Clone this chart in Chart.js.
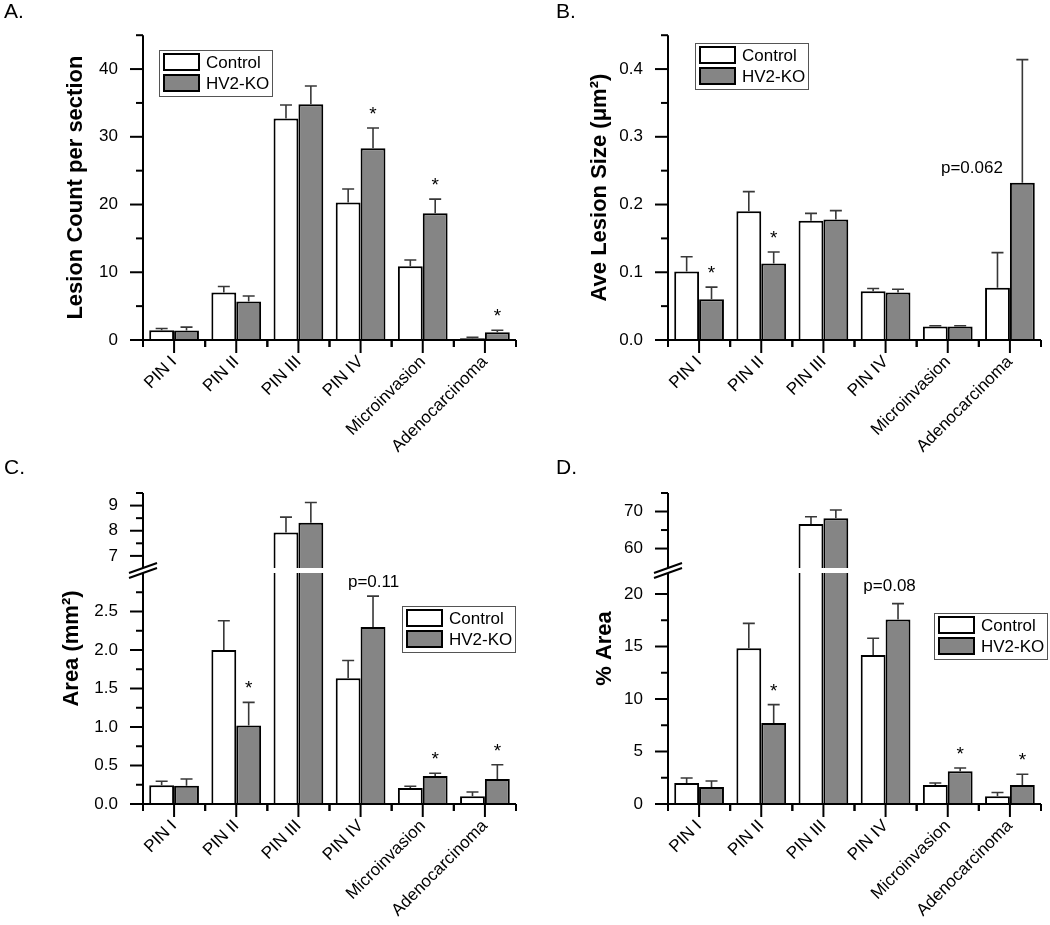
<!DOCTYPE html>
<html>
<head>
<meta charset="utf-8">
<script src="https://cdn.jsdelivr.net/npm/chart.js@4"></script>
<style>
  body { margin: 0; background: #fff; }
  #page { position: relative; width: 1050px; height: 925px; font-family: "Liberation Sans", Arial, sans-serif; }
  canvas { position: absolute; }
  .tag { position: absolute; font-size: 21px; line-height: 21px; }
</style>
</head>
<body>
<div id="page">
  <canvas id="chartA" width="525" height="470" style="left:0;top:0"></canvas>
  <canvas id="chartB" width="525" height="470" style="left:525px;top:0"></canvas>
  <canvas id="chartC" width="525" height="485" style="left:0;top:440px"></canvas>
  <canvas id="chartD" width="525" height="485" style="left:525px;top:440px"></canvas>
  <div class="tag" style="left:4px;top:0">A.</div>
  <div class="tag" style="left:556px;top:0">B.</div>
  <div class="tag" style="left:4px;top:456px">C.</div>
  <div class="tag" style="left:556px;top:456px">D.</div>
</div>
<script>
const FONT = '"Liberation Sans", Arial, sans-serif';
Chart.defaults.font.family = FONT;
Chart.defaults.color = '#000';

const categories = ['PIN I', 'PIN II', 'PIN III', 'PIN IV', 'Microinvasion', 'Adenocarcinoma'];
const seriesNames = ['Control', 'HV2-KO'];
const koColor = '#858585';

// A. lesion count per section
const countCtrl = [1.45, 7.0, 32.7, 20.3, 10.9, 0.25];
const countCtrlSem = [0.25, 0.9, 2.0, 2.0, 0.9, 0.15];
const countKo = [1.4, 5.7, 34.8, 28.3, 18.7, 1.15];
const countKoSem = [0.5, 0.8, 2.7, 3.0, 2.1, 0.3];
const countStars = [0, 0, 0, 1, 1, 1];
const countTicks = [0, 10, 20, 30, 40];

// B. average lesion size
const sizeCtrl = [0.101, 0.190, 0.176, 0.072, 0.020, 0.077];
const sizeCtrlSem = [0.022, 0.029, 0.011, 0.004, 0.001, 0.052];
const sizeKo = [0.060, 0.113, 0.178, 0.070, 0.020, 0.232];
const sizeKoSem = [0.018, 0.017, 0.013, 0.005, 0.001, 0.182];
const sizeStars = [1, 1, 0, 0, 0, 0];
const sizeTicks = [0, 0.1, 0.2, 0.3, 0.4];

// C. area (mm2), broken axis
const areaCtrl = [0.243, 2.00, 7.93, 1.634, 0.208, 0.10];
const areaCtrlSem = [0.052, 0.38, 0.61, 0.23, 0.022, 0.056];
const areaKo = [0.238, 1.02, 8.32, 2.30, 0.364, 0.325];
const areaKoSem = [0.087, 0.30, 0.80, 0.40, 0.036, 0.185];
const areaStars = [0, 1, 0, 0, 1, 1];
const areaTicksLow = [0, 0.5, 1.0, 1.5, 2.0, 2.5];
const areaTicksHigh = [7, 8, 9];

// D. % area, broken axis
const pctCtrl = [2.0, 14.83, 66.6, 14.19, 1.81, 0.73];
const pctCtrlSem = [0.48, 2.37, 2.0, 1.6, 0.19, 0.37];
const pctKo = [1.62, 7.71, 68.2, 17.56, 3.11, 1.81];
const pctKoSem = [0.57, 1.75, 2.2, 1.52, 0.32, 1.02];
const pctStars = [0, 1, 0, 0, 1, 1];
const pctTicksLow = [0, 5, 10, 15, 20];
const pctTicksHigh = [60, 70];

// ---------- drawing helpers ----------
const decor = {
  id: 'decor',
  beforeDatasetDraw(chart, args, opts) {
    const sc = chart.scales[args.meta.yAxisID];
    const a = chart.chartArea;
    const bottom = sc.id === 'yTop' ? sc.bottom - opts.gap : sc.bottom;
    chart.ctx.save();
    chart.ctx.beginPath();
    chart.ctx.rect(a.left, sc.top, a.right - a.left, bottom - sc.top);
    chart.ctx.clip();
  },
  afterDatasetDraw(chart, args) {
    const ctx = chart.ctx;
    const ds = chart.data.datasets[args.index];
    const sc = chart.scales[args.meta.yAxisID];
    ctx.strokeStyle = '#383838';
    ctx.lineWidth = 1.6;
    args.meta.data.forEach((bar, i) => {
      const top = sc.getPixelForValue(ds.data[i] + ds.sem[i]);
      ctx.beginPath();
      ctx.moveTo(bar.x, bar.y);
      ctx.lineTo(bar.x, top);
      ctx.moveTo(bar.x - 6, top);
      ctx.lineTo(bar.x + 6, top);
      ctx.stroke();
    });
    ctx.restore();
  },
  afterDatasetsDraw(chart, args, opts) {
    const ctx = chart.ctx;
    const xs = chart.scales.x;
    ctx.save();
    ctx.fillStyle = '#000';
    ctx.textAlign = 'center';
    ctx.font = '19px ' + FONT;
    chart.data.datasets.forEach((ds, di) => {
      if (!ds.stars) return;
      const sc = chart.scales[ds.yAxisID];
      const meta = chart.getDatasetMeta(di);
      ds.stars.forEach((s, i) => {
        if (!s) return;
        const y = sc.getPixelForValue(ds.data[i] + ds.sem[i]);
        ctx.fillText('*', meta.data[i].x, y - 8);
      });
    });
    ctx.font = '17px ' + FONT;
    ctx.textBaseline = 'middle';
    (opts.notes || []).forEach(n => {
      const sc = chart.scales[n.axis || 'y'];
      ctx.fillText(n.text, xs.getPixelForValue(n.index) + n.dx, sc.getPixelForValue(n.value));
    });
    ctx.restore();
  },
  afterDraw(chart, args, opts) {
    const ctx = chart.ctx, a = chart.chartArea, xs = chart.scales.x;
    const seg = (x1, y1, x2, y2) => { ctx.beginPath(); ctx.moveTo(x1, y1); ctx.lineTo(x2, y2); ctx.stroke(); };
    ctx.save();
    ctx.strokeStyle = '#000';
    ctx.lineWidth = 2;

    // x axis and its ticks
    seg(a.left - 1, a.bottom, a.right, a.bottom);
    const half = (xs.getPixelForValue(1) - xs.getPixelForValue(0)) / 2;
    categories.forEach((c, i) => {
      const px = xs.getPixelForValue(i);
      seg(px, a.bottom, px, a.bottom + 13);
      seg(px - half, a.bottom, px - half, a.bottom + 7);
      seg(px + half, a.bottom, px + half, a.bottom + 7);
    });

    // y axes, major and minor ticks
    opts.axes.forEach(ax => {
      const sc = chart.scales[ax.id];
      const top = sc.top;
      const bottom = ax.id === 'yTop' ? sc.bottom - opts.gap : sc.bottom + 1;
      seg(a.left, top, a.left, bottom);
      const lo = Math.ceil(sc.min / ax.minor - 1e-6), hi = Math.floor(sc.max / ax.minor + 1e-6);
      for (let k = lo; k <= hi; k++) {
        const v = k * ax.minor;
        const py = sc.getPixelForValue(v);
        if (opts.broken && (ax.id === 'yTop' ? py > bottom - 3 : py < top + 3)) continue;
        const major = ax.ticks.some(t => Math.abs(t - v) < 1e-6);
        seg(a.left - (major ? 13 : 7), py, a.left, py);
      }
    });

    // break marks
    if (opts.broken) {
      const up = chart.scales.yTop.bottom - opts.gap, low = chart.scales.y.top;
      [up, low].forEach(y => seg(a.left - 14, y + 5, a.left + 14, y - 5));
    }

    // y title
    ctx.save();
    ctx.translate(a.left - opts.title.offset, (a.top + a.bottom) / 2);
    ctx.rotate(-Math.PI / 2);
    ctx.font = 'bold 22px ' + FONT;
    ctx.fillStyle = '#000';
    ctx.textAlign = 'center';
    ctx.textBaseline = 'middle';
    ctx.fillText(opts.title.text, 0, 0);
    ctx.restore();

    // legend
    const L = opts.legend;
    ctx.lineWidth = 1;
    ctx.strokeStyle = '#555';
    ctx.strokeRect(L.x + 0.5, L.y + 0.5, 113, 46);
    ctx.font = '17px ' + FONT;
    ctx.textBaseline = 'middle';
    [['#fff', seriesNames[0]], [koColor, seriesNames[1]]].forEach(([fill, name], i) => {
      const ry = L.y + 3 + i * 21;
      ctx.fillStyle = fill;
      ctx.fillRect(L.x + 4, ry, 37, 18);
      ctx.lineWidth = 2;
      ctx.strokeStyle = '#000';
      ctx.strokeRect(L.x + 5, ry + 1, 35, 16);
      ctx.fillStyle = '#000';
      ctx.fillText(name, L.x + 47, ry + 10);
    });
    ctx.restore();
  }
};

function bars(label, data, sem, color, axis, stars) {
  return {
    label, data, sem, stars, yAxisID: axis, stack: label,
    backgroundColor: color, borderColor: '#000', borderWidth: 2
  };
}

function yScale(min, max, ticks, fmt, extra) {
  return Object.assign({
    position: 'left', min, max, stacked: false,
    grid: { display: false, drawTicks: false },
    border: { display: false },
    ticks: { padding: 25, font: { size: 17 }, callback: v => fmt(v) },
    afterBuildTicks: s => { s.ticks = ticks.map(v => ({ value: v })); },
    afterFit: s => { s.width = 143; }
  }, extra || {});
}

function makeChart(id, datasets, scales, xHeight, padTop, decorOpts) {
  return new Chart(document.getElementById(id), {
    type: 'bar',
    data: { labels: categories, datasets },
    plugins: [decor],
    options: {
      responsive: false,
      animation: false,
      categoryPercentage: 0.8,
      barPercentage: 1.0,
      layout: { padding: { top: padTop, right: 9, left: 0, bottom: 0 } },
      plugins: { legend: { display: false }, tooltip: { enabled: false }, decor: decorOpts },
      scales: Object.assign({
        x: {
          grid: { display: false, drawTicks: false },
          border: { display: false },
          ticks: { autoSkip: false, minRotation: 45, maxRotation: 45, padding: 12, font: { size: 17 } },
          afterFit: s => { s.height = xHeight; }
        }
      }, scales)
    }
  });
}

const one = v => v.toFixed(1);
const plain = v => String(v);

makeChart('chartA', [
  bars(seriesNames[0], countCtrl, countCtrlSem, '#fff', 'y'),
  bars(seriesNames[1], countKo, countKoSem, koColor, 'y', countStars)
], { y: yScale(0, 45, countTicks, plain) }, 130, 30, {
  gap: 0, broken: false,
  axes: [{ id: 'y', ticks: countTicks, minor: 5 }],
  title: { text: 'Lesion Count per section', offset: 67 },
  legend: { x: 159, y: 50 }
});

makeChart('chartB', [
  bars(seriesNames[0], sizeCtrl, sizeCtrlSem, '#fff', 'y'),
  bars(seriesNames[1], sizeKo, sizeKoSem, koColor, 'y', sizeStars)
], { y: yScale(0, 0.45, sizeTicks, one) }, 130, 30, {
  gap: 0, broken: false,
  axes: [{ id: 'y', ticks: sizeTicks, minor: 0.05 }],
  title: { text: 'Ave Lesion Size (\u03bcm\u00b2)', offset: 68 },
  legend: { x: 170, y: 43 },
  notes: [{ text: 'p=0.062', index: 5, value: 0.254, dx: -38 }]
});

makeChart('chartC', [
  bars(seriesNames[0], areaCtrl, areaCtrlSem, '#fff', 'y'),
  bars(seriesNames[1], areaKo, areaKoSem, koColor, 'y', areaStars),
  bars(seriesNames[0], areaCtrl, areaCtrlSem, '#fff', 'yTop'),
  bars(seriesNames[1], areaKo, areaKoSem, koColor, 'yTop')
], {
  y: yScale(0, 3.0, areaTicksLow, one, { stack: 'v', stackWeight: 231 }),
  yTop: yScale(6.32, 9.5, areaTicksHigh, plain, { stack: 'v', stackWeight: 80 })
}, 121, 53, {
  gap: 5, broken: true,
  axes: [{ id: 'y', ticks: areaTicksLow, minor: 0.25 }, { id: 'yTop', ticks: areaTicksHigh, minor: 0.5 }],
  title: { text: 'Area (mm\u00b2)', offset: 71 },
  legend: { x: 402, y: 166 },
  notes: [{ text: 'p=0.11', index: 3, value: 2.88, dx: 13 }]
});

makeChart('chartD', [
  bars(seriesNames[0], pctCtrl, pctCtrlSem, '#fff', 'y'),
  bars(seriesNames[1], pctKo, pctKoSem, koColor, 'y', pctStars),
  bars(seriesNames[0], pctCtrl, pctCtrlSem, '#fff', 'yTop'),
  bars(seriesNames[1], pctKo, pctKoSem, koColor, 'yTop')
], {
  y: yScale(0, 22, pctTicksLow, plain, { stack: 'v', stackWeight: 231 }),
  yTop: yScale(53.4, 75, pctTicksHigh, plain, { stack: 'v', stackWeight: 80 })
}, 121, 53, {
  gap: 5, broken: true,
  axes: [{ id: 'y', ticks: pctTicksLow, minor: 2.5 }, { id: 'yTop', ticks: pctTicksHigh, minor: 5 }],
  title: { text: '% Area', offset: 63 },
  legend: { x: 409, y: 173 },
  notes: [{ text: 'p=0.08', index: 3, value: 20.7, dx: 4 }]
});
</script>
</body>
</html>
